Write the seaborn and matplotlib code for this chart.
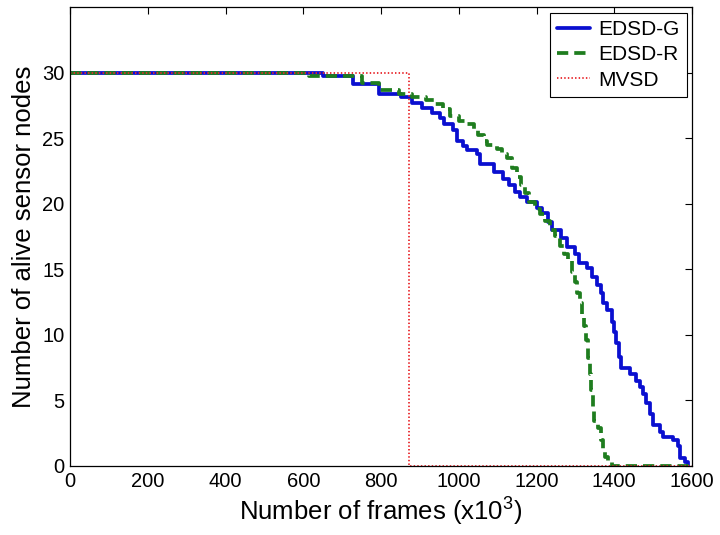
import matplotlib
matplotlib.use("Agg")
import matplotlib.pyplot as plt
import seaborn as sns
import pandas as pd

# ---- data ----
edsd_g_x = [0, 651, 728, 795, 852, 880, 905, 930, 952, 962, 985, 996, 1010, 1021, 1047,
            1055, 1090, 1114, 1130, 1145, 1158, 1176, 1201, 1215, 1230, 1240, 1262, 1278,
            1300, 1310, 1330, 1343, 1355, 1365, 1372, 1380, 1395, 1400, 1405, 1412, 1418,
            1440, 1455, 1466, 1474, 1482, 1492, 1500, 1518, 1525, 1551, 1564, 1569, 1582, 1590]
edsd_g_y = [30, 29.7, 29.1, 28.4, 28.1, 27.7, 27.3, 26.9, 26.5, 26.1, 25.6, 24.8, 24.4, 24.1, 23.8,
            23.0, 22.4, 21.9, 21.4, 20.9, 20.5, 20.1, 19.7, 19.3, 18.6, 18.0, 17.4, 16.7,
            16.2, 15.5, 15.1, 14.4, 13.8, 13.2, 12.4, 11.9, 11.0, 10.2, 9.4, 8.3, 7.5,
            7.0, 6.5, 6.0, 5.5, 4.8, 4.0, 3.1, 2.6, 2.2, 2.0, 1.5, 0.6, 0.3, 0]

edsd_r_x = [0, 615, 750, 795, 845, 880, 915, 940, 960, 977, 1000, 1020, 1040, 1050, 1065,
            1073, 1098, 1111, 1125, 1138, 1150, 1160, 1170, 1180, 1195, 1209, 1222, 1235,
            1248, 1260, 1270, 1280, 1290, 1298, 1305, 1312, 1318, 1322, 1327, 1332, 1337,
            1341, 1345, 1348, 1358, 1365, 1370, 1376, 1385, 1395, 1600]
edsd_r_y = [30, 29.7, 29.2, 28.7, 28.4, 28.1, 27.9, 27.6, 27.2, 26.7, 26.3, 26.1, 25.7, 25.2, 24.8,
            24.5, 24.2, 23.8, 23.5, 22.7, 22.0, 21.4, 20.8, 20.1, 19.6, 19.2, 18.7, 18.0,
            17.5, 16.8, 16.2, 15.6, 14.8, 14.0, 13.2, 12.4, 11.5, 10.7, 9.6, 8.2, 7.0,
            5.8, 4.3, 3.4, 2.9, 2.0, 1.2, 0.7, 0.3, 0, 0]

mvsd_x = [0, 872, 872, 1600]
mvsd_y = [30, 30, 0, 0]

series_names = ["EDSD-G", "EDSD-R", "MVSD"]
x_ticks = [0, 200, 400, 600, 800, 1000, 1200, 1400, 1600]
y_ticks = [0, 5, 10, 15, 20, 25, 30]

# ---- styling ----
sns.set_style("white")
plt.rcParams["font.family"] = ["Liberation Sans", "DejaVu Sans"]
plt.rcParams["mathtext.fontset"] = "custom"
plt.rcParams["mathtext.rm"] = "Liberation Sans"
plt.rcParams["mathtext.default"] = "regular"
plt.rcParams["text.color"] = "black"
plt.rcParams["axes.labelcolor"] = "black"

fig = plt.figure(figsize=(7.2, 5.35), dpi=100)
ax = fig.add_axes([0.0972, 0.129, 0.864, 0.858])

df_g = pd.DataFrame({"x": edsd_g_x, "y": edsd_g_y})
df_r = pd.DataFrame({"x": edsd_r_x, "y": edsd_r_y})
df_m = pd.DataFrame({"x": mvsd_x, "y": mvsd_y})

sns.lineplot(data=df_g, x="x", y="y", ax=ax, sort=False, estimator=None,
             color="#0a0fd0", lw=2.7, drawstyle="steps-post", label=series_names[0])
sns.lineplot(data=df_r, x="x", y="y", ax=ax, sort=False, estimator=None,
             color="#1f7d1f", lw=2.7, drawstyle="steps-post", label=series_names[1])
sns.lineplot(data=df_m, x="x", y="y", ax=ax, sort=False, estimator=None,
             color="#e8262b", lw=1.3, label=series_names[2])
ax.lines[1].set_dashes([3.0, 1.6])
ax.lines[2].set_dashes([0.8, 1.2])

ax.set_xlim(0, 1600)
ax.set_ylim(0, 35)
ax.set_xticks(x_ticks)
ax.set_yticks(y_ticks)
ax.tick_params(direction="in", top=True, right=True, length=5, width=0.8,
               labelsize=14.5, colors="black", pad=4)
for s in ax.spines.values():
    s.set_visible(True)
    s.set_color("black")
    s.set_linewidth(0.9)

ax.set_xlabel("Number of frames (x10$^3$)", fontsize=18.5, labelpad=4)
ax.set_ylabel("Number of alive sensor nodes", fontsize=18.5, labelpad=4)

leg = ax.legend(loc="upper right", bbox_to_anchor=(0.992, 0.987), fontsize=15,
                frameon=True, fancybox=False, edgecolor="black", framealpha=1,
                handlelength=1.6, handletextpad=0.4, labelspacing=0.3,
                borderpad=0.35, borderaxespad=0.0)
leg.get_frame().set_linewidth(0.8)

fig.savefig("out.png", dpi=100)
